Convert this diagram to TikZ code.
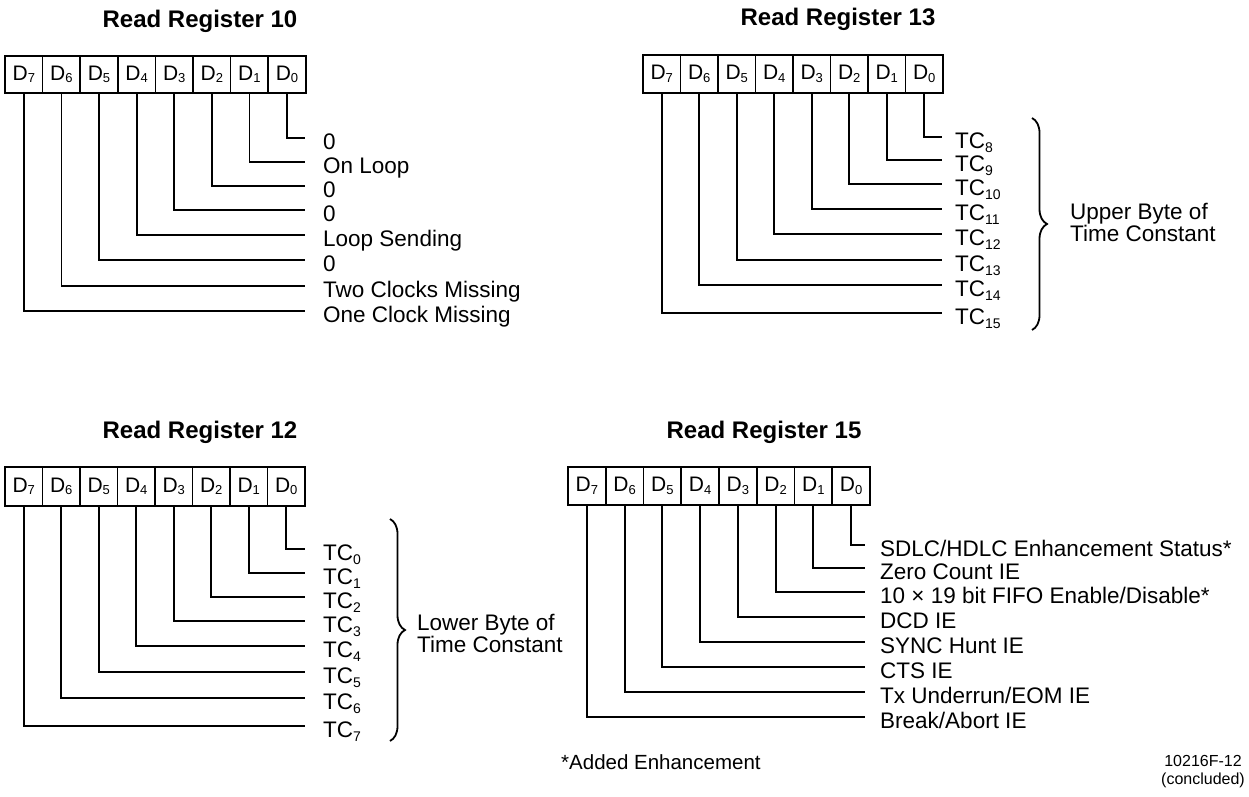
\documentclass[tikz,border=0pt]{standalone}
\usepackage{fontspec}
\setmainfont{Liberation Sans}
\usetikzlibrary{decorations.pathreplacing}
\newcommand{\fsz}[1]{\fontsize{#1}{#1}\selectfont}
\newcommand{\Dl}[1]{D\raisebox{-2.5pt}{\fontsize{13}{13}\selectfont #1}}
\newcommand{\TCl}[1]{TC\raisebox{-4pt}{\fontsize{14}{14}\selectfont #1}}
% register box: name, left, top, cellwidth, height
\newcommand{\regbox}[5]{%
  \foreach \i in {0,...,7}{%
    \node[cell, minimum width=#4pt, minimum height=#5pt] (#1c\i) at ({#2+(7.5-\i)*#4},{#3+#5/2}) {\Dl{\i}};
  }%
}
% wire: name, bit, y, xend, textx, text
\newcommand{\bitwire}[6]{%
  \coordinate (#1e#2) at (#4,#3);
  \node[lab] (#1t#2) at (#5,{#3+11}) {#6};
  \draw[wire] (#1c#2.south) |- (#1e#2);
}
\begin{document}
\begin{tikzpicture}[x=1pt,y=-1pt,
  wire/.style={line width=1.8pt},
  cell/.style={draw, line width=1.6pt, inner sep=0pt, font=\fsz{21}},
  lab/.style={anchor=base west, inner sep=0pt, font=\fsz{22.5}},
  regtitle/.style={anchor=base, inner sep=0pt, font=\bfseries\fsz{24}},
  bracetext/.style={anchor=west, align=left, inner sep=0pt, font=\fontsize{22.5}{20}\selectfont},
  bracestyle/.style={line width=1.8pt, decorate, decoration={brace, amplitude=15pt}},
  note/.style={inner sep=0pt, font=\fsz{20.5}},
  fignote/.style={inner sep=0pt, anchor=base, font=\fsz{16}}]
\useasboundingbox (0,0) rectangle (1249,796);

% ---------- Read Register 10 ----------
\node[regtitle] (t10) at (200,27) {Read Register 10};
\regbox{a}{5}{56}{37.6}{37}
\bitwire{a}{0}{138}{305}{323}{0}
\bitwire{a}{1}{162}{305}{323}{On Loop}
\bitwire{a}{2}{186}{305}{323}{0}
\bitwire{a}{3}{210}{305}{323}{0}
\bitwire{a}{4}{235}{305}{323}{Loop Sending}
\bitwire{a}{5}{260}{305}{323}{0}
\bitwire{a}{6}{286}{305}{323}{Two Clocks Missing}
\bitwire{a}{7}{311}{305}{323}{One Clock Missing}

% ---------- Read Register 13 ----------
\node[regtitle] (t13) at (838,25) {Read Register 13};
\regbox{b}{643}{55}{37.5}{38}
\bitwire{b}{0}{137}{942}{955}{\TCl{8}}
\bitwire{b}{1}{160}{942}{955}{\TCl{9}}
\bitwire{b}{2}{184}{942}{955}{\TCl{10}}
\bitwire{b}{3}{209}{942}{955}{\TCl{11}}
\bitwire{b}{4}{234}{942}{955}{\TCl{12}}
\bitwire{b}{5}{260}{942}{955}{\TCl{13}}
\bitwire{b}{6}{285}{942}{955}{\TCl{14}}
\bitwire{b}{7}{313}{942}{955}{\TCl{15}}
\coordinate (b13a) at (1032,118);
\coordinate (b13b) at (1032,330);
\draw[bracestyle] (b13a) -- (b13b);
\node[bracetext] (ub) at (1070,222) {Upper Byte of\\Time Constant};

% ---------- Read Register 12 ----------
\node[regtitle] (t12) at (200,438) {Read Register 12};
\regbox{c}{5}{467}{37.5}{39}
\bitwire{c}{0}{549}{305}{323}{\TCl{0}}
\bitwire{c}{1}{573}{305}{323}{\TCl{1}}
\bitwire{c}{2}{597}{305}{323}{\TCl{2}}
\bitwire{c}{3}{621}{305}{323}{\TCl{3}}
\bitwire{c}{4}{646}{305}{323}{\TCl{4}}
\bitwire{c}{5}{672}{305}{323}{\TCl{5}}
\bitwire{c}{6}{698}{305}{323}{\TCl{6}}
\bitwire{c}{7}{726}{305}{323}{\TCl{7}}
\coordinate (b12a) at (390,519);
\coordinate (b12b) at (390,741);
\draw[bracestyle] (b12a) -- (b12b);
\node[bracetext] (lb) at (417,633) {Lower Byte of\\Time Constant};

% ---------- Read Register 15 ----------
\node[regtitle] (t15) at (764,438) {Read Register 15};
\regbox{d}{568}{467}{37.75}{38}
\bitwire{d}{0}{545}{865}{880}{SDLC/HDLC Enhancement Status*}
\bitwire{d}{1}{568}{865}{880}{Zero Count IE}
\bitwire{d}{2}{592}{865}{880}{10 × 19 bit FIFO Enable/Disable*}
\bitwire{d}{3}{617}{865}{880}{DCD IE}
\bitwire{d}{4}{642}{865}{880}{SYNC Hunt IE}
\bitwire{d}{5}{667}{865}{880}{CTS IE}
\bitwire{d}{6}{692}{865}{880}{Tx Underrun/EOM IE}
\bitwire{d}{7}{717}{865}{880}{Break/Abort IE}

% ---------- notes ----------
\node[note, anchor=base west] (n1) at (561,769) {*Added Enhancement};
\node[fignote] (n2) at (1203,766) {10216F-12};
\node[fignote] (n3) at (1203,784) {(concluded)};
\end{tikzpicture}
\end{document}
